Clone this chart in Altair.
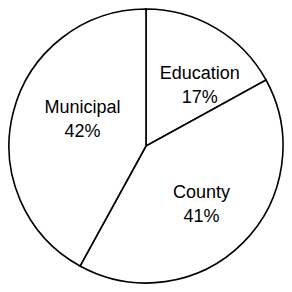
import altair as alt
import pandas as pd

categories = ["Education", "County", "Municipal"]
shares = [17, 41, 42]
labels = ["Education\n17%", "County\n41%", "Municipal\n42%"]

df = pd.DataFrame({"cat": categories, "share": shares, "label": labels,
                   "ord": list(range(len(categories)))})

base = alt.Chart(df).encode(
    theta=alt.Theta("share:Q", stack=True),
    order=alt.Order("ord:Q"),
)

pie = base.mark_arc(fill="white", stroke="black", strokeWidth=1.6, outerRadius=137)

offsets = {"Education": (13, -3), "County": (-1, -10), "Municipal": (14, -18)}
texts = []
for c in categories:
    dx, dy = offsets[c]
    texts.append(
        base.mark_text(radius=80, font="Liberation Sans", fontSize=18, lineBreak="\n",
                       lineHeight=24, align="center", baseline="middle", color="black",
                       dx=dx, dy=dy)
        .encode(text="label:N",
                opacity=alt.condition(alt.datum.cat == c, alt.value(1), alt.value(0)))
    )

chart = alt.layer(pie, *texts).properties(
    width=276, height=276, padding=0, autosize=alt.AutoSizeParams(type="none")
).configure_view(stroke=None)

chart.save("out.html", embed_options={"renderer": "svg", "actions": False})
